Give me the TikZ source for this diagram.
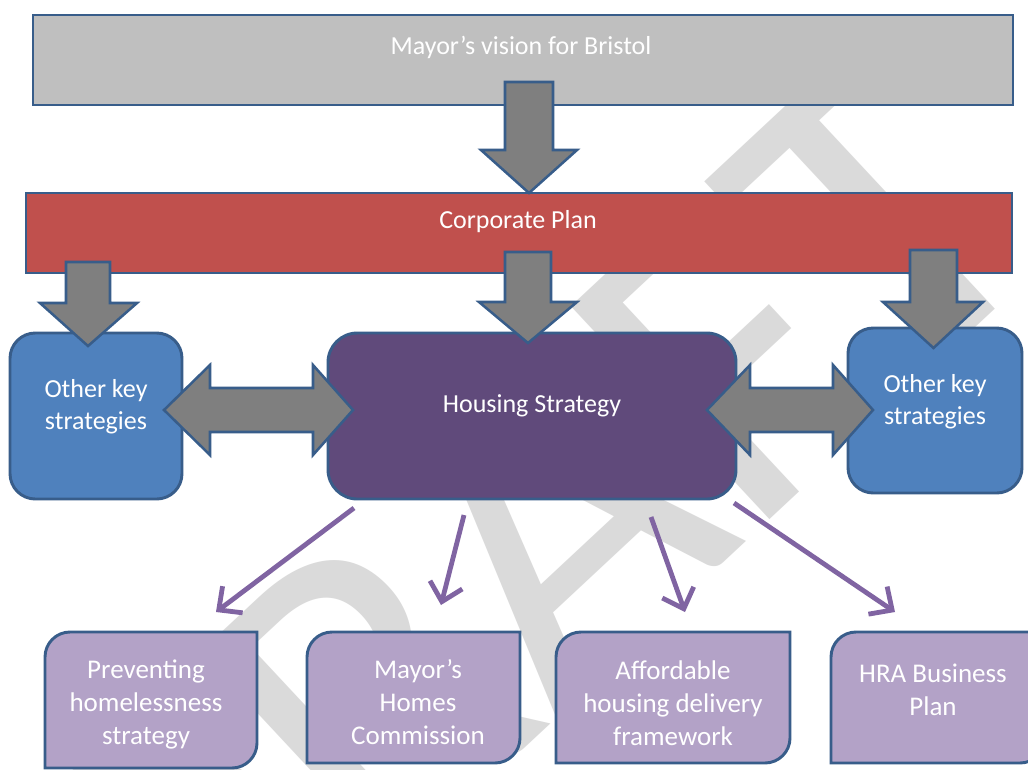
\documentclass[tikz,border=0pt]{standalone}
\usepackage{fontspec}
\setmainfont{Carlito}
\usetikzlibrary{arrows.meta,fit}
\definecolor{bord}{RGB}{56,93,138}
\definecolor{mgray}{RGB}{191,191,191}
\definecolor{cred}{RGB}{192,80,77}
\definecolor{oblue}{RGB}{79,129,189}
\definecolor{hpurp}{RGB}{96,74,123}
\definecolor{agray}{RGB}{127,127,127}
\definecolor{lav}{RGB}{179,162,199}
\definecolor{plin}{RGB}{128,100,162}
\definecolor{wmark}{RGB}{218,218,218}
\newcommand{\blockdown}[7]{% shaft x1 x2, top, head x1 x2, head base y, tip y
  \draw[garrow] (#1,#3) -- (#2,#3) -- (#2,#6) -- (#5,#6) -- ({(#1+#2)/2},#7) -- (#4,#6) -- (#1,#6) -- cycle;}
\newcommand{\blockdbl}[5]{% tipL baseL baseR tipR yc
  \draw[garrow] (#1,#5) -- (#2,#5-45) -- (#2,#5-22) -- (#3,#5-22) -- (#3,#5-45) -- (#4,#5) -- (#3,#5+45) -- (#3,#5+22) -- (#2,#5+22) -- (#2,#5+45) -- cycle;}
\newcommand{\diagbox}[4]{% x1 y1 x2 y2
  \draw[bbox] (#1,#2+25) .. controls (#1,#2+11.2) and (#1+11.2,#2) .. (#1+25,#2) -- (#3,#2) -- (#3,#4-25) .. controls (#3,#4-11.2) and (#3-11.2,#4) .. (#3-25,#4) -- (#1,#4) -- cycle;}
\begin{document}
\begin{tikzpicture}[x=0.75pt,y=-0.75pt,line join=miter,
  box/.style={draw=bord,line width=2.2pt,inner sep=0pt,outer sep=0pt},
  lbl/.style={text=white,align=center,inner sep=0pt,font=\fontsize{19.5}{24}\selectfont},
  blbl/.style={text=white,align=center,inner sep=0pt,font=\fontsize{20.25}{24.75}\selectfont},
  garrow/.style={fill=agray,draw=bord,line width=1.9pt},
  plink/.style={draw=plin,line width=3.6pt,-{Straight Barb[length=13pt,width=25pt]}},
  bbox/.style={fill=lav,draw=bord,line width=2.2pt}]
\useasboundingbox (0,0) rectangle (1028,769);
\clip (0,0) rectangle (1028,769);
\fill[white] (0,0) rectangle (1028,769);
% watermark
\node[text=wmark,rotate=43,inner sep=0pt,font=\fontsize{340.5}{345}\selectfont] (draft) at (517,556) {DRAFT};
% main boxes
\node[box,fill=mgray,fit={(33,15)(1013,105)}] (mayor) {};
\node[box,fill=cred,line width=1.6pt,fit={(26,193)(1012,273)}] (corp) {};
\node[box,fill=oblue,rounded corners=19pt,fit={(10,333)(182,499)}] (okl) {};
\node[box,fill=hpurp,rounded corners=22pt,fit={(328,333)(736,499)}] (hs) {};
\node[box,fill=oblue,rounded corners=19pt,fit={(848,328)(1022,493)}] (okr) {};
\node[lbl] (tmayor) at (521,47) {Mayor’s vision for Bristol};
\node[lbl] (tcorp) at (518,222) {Corporate Plan};
\node[lbl] (ths) at (532,406) {Housing Strategy};
\node[lbl] (tokl) at (96,407) {Other key\\strategies};
\node[lbl] (tokr) at (935,402) {Other key\\strategies};
% block arrows
\blockdown{505}{553}{82}{481}{577}{150}{193}
\blockdown{66}{110}{262}{40}{137}{303}{346}
\blockdown{505}{551}{252}{479}{577}{302}{343}
\blockdown{910}{957}{250}{883}{983}{302}{348}
\blockdbl{164}{210}{313}{353}{410}
\blockdbl{707}{750}{833}{873}{410}
% bottom boxes
\diagbox{45}{632}{257}{768}
\diagbox{307}{632}{520}{763}
\diagbox{556}{632}{790}{763}
\diagbox{831}{632}{1045}{763}
\node[blbl] (b1) at (146,704) {Preventing\\homelessness\\strategy};
\node[blbl] (b2) at (418,702) {Mayor’s\\Homes\\Commission};
\node[blbl] (b3) at (673,703) {Affordable\\housing delivery\\framework};
\node[blbl] (b4) at (933,690) {HRA Business\\Plan};
% purple connectors
\coordinate (s1) at (354,508); \coordinate (e1) at (216,612);
\coordinate (s2) at (464,515); \coordinate (e2) at (441,605);
\coordinate (s3) at (651,517); \coordinate (e3) at (685,612);
\coordinate (s4) at (734,503); \coordinate (e4) at (895,612);
\draw[plink] (s1) -- (e1);
\draw[plink] (s2) -- (e2);
\draw[plink] (s3) -- (e3);
\draw[plink] (s4) -- (e4);
\end{tikzpicture}
\end{document}
